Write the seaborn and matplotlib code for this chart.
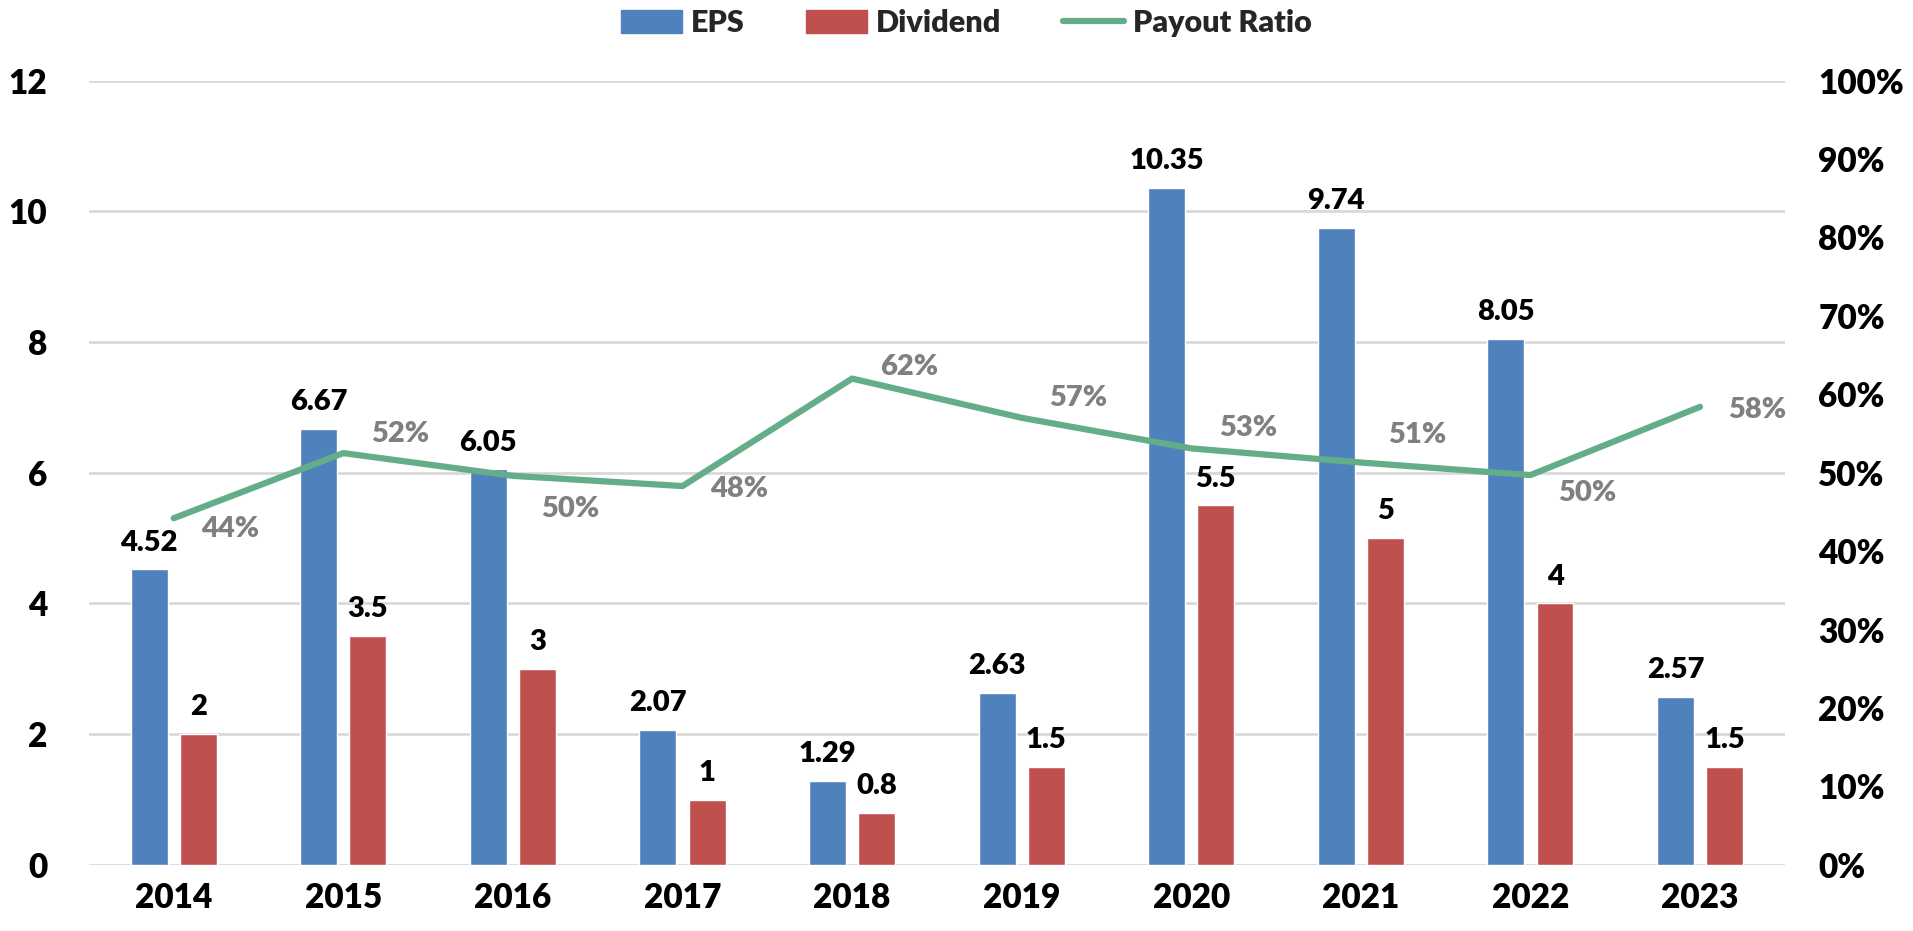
import numpy as np
import pandas as pd
import matplotlib
matplotlib.use('Agg')
import matplotlib.pyplot as plt
import seaborn as sns
from matplotlib.patches import Patch
from matplotlib.lines import Line2D

years = ['2014', '2015', '2016', '2017', '2018', '2019', '2020', '2021', '2022', '2023']
eps = [4.52, 6.67, 6.05, 2.07, 1.29, 2.63, 10.35, 9.74, 8.05, 2.57]
dividend = [2, 3.5, 3, 1, 0.8, 1.5, 5.5, 5, 4, 1.5]
payout = [44.2, 52.5, 49.6, 48.3, 62.0, 57.0, 53.1, 51.3, 49.7, 58.4]

EPS_C = '#4F81BD'
DIV_C = '#C0504D'
LINE_C = '#63AE88'
GRAY = '#808080'
W = 'heavy'

sns.set_theme(style='white')
plt.rcParams['font.family'] = ['Lato', 'DejaVu Sans']
plt.rcParams['font.weight'] = W

df = pd.DataFrame({'year': years * 2,
                   'value': eps + dividend,
                   'series': ['EPS'] * 10 + ['Dividend'] * 10})

fig = plt.figure(figsize=(19.13, 9.31), dpi=100)
ax = fig.add_axes([0.0465, 0.071, 0.8865, 0.8425])
sns.barplot(data=df, x='year', y='value', hue='series', palette=[EPS_C, DIV_C],
            width=0.58, gap=0.25, ax=ax, legend=False, saturation=1)
for c in ax.containers:
    ax.bar_label(c, labels=[f'{b.get_height():g}' for b in c], padding=10,
                 fontsize=21, fontweight=W, color='black')

ax.set_ylim(0, 12)
ax.set_xlim(-0.5, 9.5)
ax.set_yticks(range(0, 13, 2))
ax.yaxis.grid(True, color='#D9D9D9', linewidth=2)
ax.set_axisbelow(True)
ax.set_xlabel('')
ax.set_ylabel('')
for s in ax.spines.values():
    s.set_visible(False)
ax.tick_params(axis='both', length=0, labelsize=24, pad=12, labelcolor='black')
ax.tick_params(axis='y', pad=30)
for t in ax.get_xticklabels() + ax.get_yticklabels():
    t.set_fontweight(W)

ax2 = ax.twinx()
sns.lineplot(x=np.arange(len(years)), y=payout, ax=ax2, color=LINE_C, linewidth=4.5)
ax2.set_ylim(0, 100)
ax2.set_yticks(range(0, 101, 10))
ax2.set_yticklabels([f'{v}%' for v in range(0, 101, 10)])
for s in ax2.spines.values():
    s.set_visible(False)
ax2.tick_params(axis='y', length=0, labelsize=24, pad=24, labelcolor='black')
for t in ax2.get_yticklabels():
    t.set_fontweight(W)

# label offsets (points) for payout labels
offs = [(-8), 14, (-24), (-2), 8, 14, 15, 20, (-13), (-2)]
for i, (p, dy) in enumerate(zip(payout, offs)):
    ax2.annotate(f'{round(p)}%', (i, p), xytext=(20, dy), textcoords='offset points',
                 ha='left', va='center', fontsize=21, fontweight=W, color=GRAY)

handles = [Patch(color=EPS_C, label='EPS'), Patch(color=DIV_C, label='Dividend'),
           Line2D([0], [0], color=LINE_C, linewidth=4.5, label='Payout Ratio')]
fig.legend(handles=handles, loc='center', bbox_to_anchor=(0.505, 0.975), ncol=3,
           frameon=False, prop={'size': 22, 'weight': W},
           handlelength=2.0, handleheight=0.8, columnspacing=2.0, handletextpad=0.3)

plt.savefig('out.png', dpi=100)
